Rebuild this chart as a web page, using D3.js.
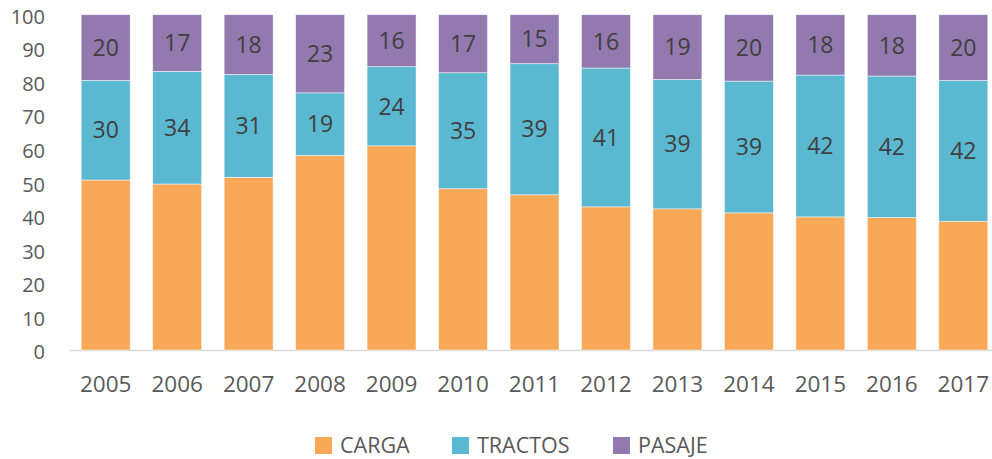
<!DOCTYPE html>
<html>
<head>
<meta charset="utf-8">
<script src="https://cdn.jsdelivr.net/npm/d3@7"></script>
<style>
  body { margin: 0; background: #fff; }
  svg { display: block; font-family: "Open Sans", "Noto Sans", sans-serif; }
</style>
</head>
<body>
<svg id="chart" width="992" height="459"></svg>
<script>
// shares in percent
var years = ["2005", "2006", "2007", "2008", "2009", "2010", "2011", "2012", "2013", "2014", "2015", "2016", "2017"];
var carga = [50.7, 49.5, 51.5, 58.0, 60.9, 48.1, 46.3, 42.7, 42.1, 40.9, 39.7, 39.5, 38.4];
var tractos = [29.7, 33.6, 30.7, 18.7, 23.6, 34.6, 39.1, 41.4, 38.6, 39.3, 42.3, 42.2, 42.0];
var pasaje = [19.6, 16.9, 17.8, 23.3, 15.5, 17.3, 14.6, 15.9, 19.3, 19.8, 18.0, 18.3, 19.6];
var seriesNames = ["CARGA", "TRACTOS", "PASAJE"];
var yTicks = [0, 10, 20, 30, 40, 50, 60, 70, 80, 90, 100];

var colors = { CARGA: "#f9a857", TRACTOS: "#5bb8d1", PASAJE: "#9279ae" };

var rows = years.map(function (y, i) {
  return { year: y, CARGA: carga[i], TRACTOS: tractos[i], PASAJE: pasaje[i] };
});

var svg = d3.select("#chart");

var xScale = d3.scaleBand()
  .domain(years)
  .range([70, 999])
  .paddingInner(0.315)
  .paddingOuter(0.157);

var yScale = d3.scaleLinear()
  .domain([0, 100])
  .range([350, 14.7]);

var stack = d3.stack().keys(seriesNames);
var layers = stack(rows);

// baseline
svg.append("line")
  .attr("x1", 70)
  .attr("x2", 992)
  .attr("y1", yScale(0) + 0.5)
  .attr("y2", yScale(0) + 0.5)
  .attr("stroke", "#d9d9d9")
  .attr("stroke-width", 1.5);

var layer = svg.selectAll("g.layer")
  .data(layers)
  .enter()
  .append("g")
  .attr("class", "layer")
  .attr("fill", function (d) { return colors[d.key]; });

layer.selectAll("rect")
  .data(function (d) { return d; })
  .enter()
  .append("rect")
  .attr("x", function (d) { return xScale(d.data.year); })
  .attr("width", xScale.bandwidth())
  .attr("y", function (d) { return yScale(d[1]); })
  .attr("height", function (d) { return yScale(d[0]) - yScale(d[1]); })
  .attr("stroke", "#ffffff")
  .attr("stroke-opacity", 0.6)
  .attr("stroke-width", 0.8);

// data labels for TRACTOS and PASAJE
layers.filter(function (l) { return l.key !== "CARGA"; }).forEach(function (l) {
  svg.append("g")
    .selectAll("text")
    .data(l)
    .enter()
    .append("text")
    .attr("x", function (d) { return xScale(d.data.year) + xScale.bandwidth() / 2; })
    .attr("y", function (d) { return (yScale(d[0]) + yScale(d[1])) / 2; })
    .attr("dy", "0.36em")
    .attr("text-anchor", "middle")
    .attr("fill", "#404040")
    .style("font-size", "23px")
    .text(function (d) { return (d[1] - d[0]).toFixed(0); });
});

// y axis labels
svg.append("g")
  .selectAll("text")
  .data(yTicks)
  .enter()
  .append("text")
  .attr("x", 45)
  .attr("y", function (d) { return yScale(d) + 2; })
  .attr("dy", "0.36em")
  .attr("text-anchor", "end")
  .attr("fill", "#595959")
  .style("font-size", "20px")
  .text(function (d) { return d; });

// x axis labels
svg.append("g")
  .selectAll("text")
  .data(years)
  .enter()
  .append("text")
  .attr("x", function (d) { return xScale(d) + xScale.bandwidth() / 2; })
  .attr("y", 384)
  .attr("dy", "0.36em")
  .attr("text-anchor", "middle")
  .attr("fill", "#595959")
  .style("font-size", "22.5px")
  .text(function (d) { return d; });

// legend
var legendX = [315, 452, 613];
var legend = svg.append("g")
  .selectAll("g")
  .data(seriesNames)
  .enter()
  .append("g")
  .attr("transform", function (d, i) { return "translate(" + legendX[i] + ",437)"; });

legend.append("rect")
  .attr("width", 17)
  .attr("height", 17)
  .attr("fill", function (d) { return colors[d]; });

legend.append("text")
  .attr("x", 25)
  .attr("y", 16)
  .attr("fill", "#595959")
  .style("font-size", "21.5px")
  .text(function (d) { return d; });
</script>
</body>
</html>
